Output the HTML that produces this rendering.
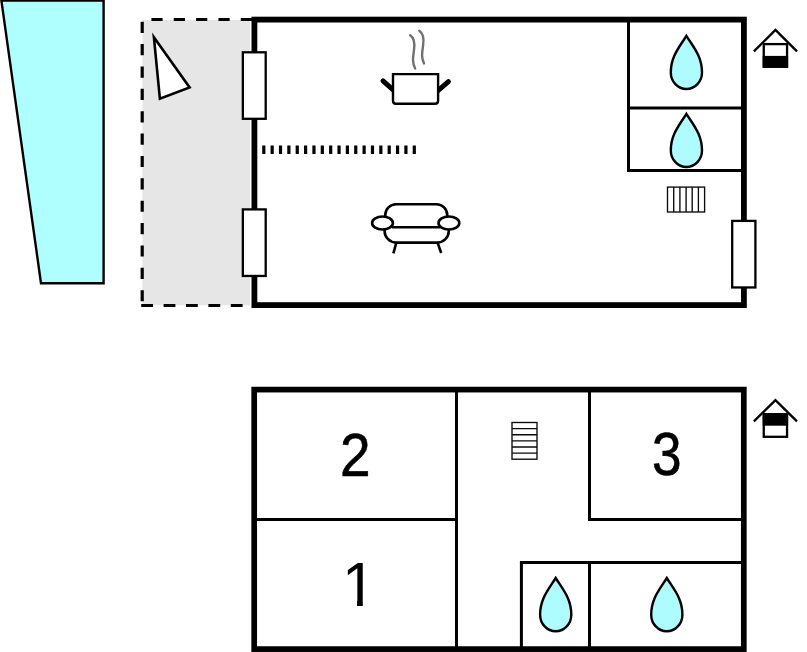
<!DOCTYPE html>
<html>
<head>
<meta charset="utf-8">
<title>Floor plan</title>
<style>
html,body{margin:0;padding:0;background:#fff;}
body{width:807px;height:652px;overflow:hidden;}
svg{display:block;}
text{font-family:"Liberation Sans",sans-serif;fill:#000;}
</style>
</head>
<body>
<svg width="807" height="652" viewBox="0 0 807 652">
<rect x="0" y="0" width="807" height="652" fill="#fff"/>

<!-- pool -->
<polygon points="1.4,0.6 103.6,0.6 103.6,283.2 41,283.2" fill="#afffff" stroke="#000" stroke-width="2.4" stroke-linejoin="miter"/>

<!-- terrace -->
<rect x="142.4" y="19.9" width="107.6" height="285.4" fill="#e6e6e6"/>
<g stroke="#000" stroke-width="3.2" fill="none">
<line x1="252" y1="19.5" x2="142" y2="19.5" stroke-dasharray="11.2 11.15"/>
<line x1="142.2" y1="21.7" x2="142.2" y2="304" stroke-dasharray="11.2 11.17"/>
<line x1="141.2" y1="305.5" x2="250" y2="305.5" stroke-dasharray="11.8 10.6"/>
</g>
<polygon points="153.9,37.3 189.6,87.5 159.9,98.8" fill="#fff" stroke="#000" stroke-width="2.6" stroke-linejoin="miter"/>

<!-- upper floor walls -->
<rect x="254.4" y="19.6" width="489.5" height="285.5" fill="#fff" stroke="#000" stroke-width="5.8"/>
<g stroke="#000" stroke-width="3" fill="none">
<polyline points="628.5,19.7 628.5,170.4 743.6,170.4" stroke-linejoin="miter"/>
<line x1="628.5" y1="108" x2="743.6" y2="108"/>
</g>
<!-- windows -->
<g fill="#fff" stroke="#000" stroke-width="2.3">
<rect x="242.85" y="52.3" width="22.85" height="66.5"/>
<rect x="242.85" y="209.4" width="22.85" height="66.55"/>
<rect x="732.2" y="220.9" width="23.2" height="66.55"/>
</g>

<!-- partition dotted -->
<line x1="262.2" y1="149.8" x2="416.5" y2="149.8" stroke="#000" stroke-width="8.4" stroke-dasharray="3.2 5.16"/>

<!-- pot -->
<g stroke="#000" fill="none">
<line x1="383" y1="80.9" x2="393.4" y2="90.2" stroke-width="5" stroke-linecap="round"/>
<line x1="448.4" y1="81.6" x2="437.7" y2="90.8" stroke-width="5" stroke-linecap="round"/>
<path d="M393,74.1 H438.1 V100.8 Q438.1,103.8 435.1,103.8 H396 Q393,103.8 393,100.8 Z" fill="#fff" stroke-width="2.4"/>
</g>
<g stroke="#707070" stroke-width="2.4" fill="none" stroke-linecap="round">
<path d="M410.2,35.2 C414.5,38 415,43 414,50 C413,57 412,62 415.1,68.4"/>
<path d="M419.3,30.7 C423.6,33.5 424.1,38.5 423.1,45.5 C422.1,52.5 421.1,57.5 424,63.4"/>
</g>

<!-- sofa -->
<g stroke="#000" stroke-width="2.6" fill="none" stroke-linecap="butt">
<path d="M385.3,217 V215 A10.7,10.7 0 0 1 396,204.3 H436.5 A10.7,10.7 0 0 1 447.2,215 V217"/>
<path d="M384.6,229 V231 A11.6,11.6 0 0 0 396.2,242.6 H437.2 A11.6,11.6 0 0 0 448.8,231 V229"/>
<line x1="392" y1="227.3" x2="440" y2="227.3"/>
<ellipse cx="382.5" cy="223" rx="10.4" ry="6.5" fill="#fff"/>
<ellipse cx="448.9" cy="223" rx="10.4" ry="6.5" fill="#fff"/>
<line x1="396.2" y1="243" x2="393.4" y2="253.3"/>
<line x1="437.7" y1="243" x2="441.2" y2="253"/>
</g>

<!-- drops -->
<path d="M686.4,35.8 C679,47.7 670.8,56.5 670.8,72.5 C670.8,81.6 677.8,89 686.4,89 C695,89 702,81.6 702,72.5 C702,56.5 693.8,47.7 686.4,35.8 Z" fill="#aefcfd" stroke="#000" stroke-width="2.4" stroke-linejoin="miter"/>
<path d="M686.4,35.8 C679,47.7 670.8,56.5 670.8,72.5 C670.8,81.6 677.8,89 686.4,89 C695,89 702,81.6 702,72.5 C702,56.5 693.8,47.7 686.4,35.8 Z" transform="translate(0,78)" fill="#aefcfd" stroke="#000" stroke-width="2.4" stroke-linejoin="miter"/>

<!-- upper stairs -->
<g stroke="#0a0a0a" stroke-width="1.35" fill="#fff">
<rect x="667.5" y="187.1" width="37.1" height="24.9"/>
<path d="M673.7,187.1V212 M679.9,187.1V212 M686.1,187.1V212 M692.2,187.1V212 M698.4,187.1V212" fill="none"/>
</g>

<!-- house icon 1 -->
<g stroke="#000" fill="none">
<polyline points="753.9,51.3 775.45,30 797,51.3" stroke-width="2.35" stroke-linejoin="miter"/>
<rect x="763.75" y="44.1" width="23.3" height="22.6" fill="#fff" stroke-width="2.3"/>
<rect x="763.8" y="57" width="23.2" height="9.7" fill="#000" stroke-width="2.2"/>
</g>

<!-- lower floor -->
<rect x="254.2" y="389.6" width="489.6" height="259.5" fill="#fff" stroke="#000" stroke-width="5.7"/>
<g stroke="#000" stroke-width="3" fill="none" stroke-linejoin="miter">
<line x1="456.5" y1="389.6" x2="456.5" y2="649"/>
<line x1="254.2" y1="519.4" x2="456.5" y2="519.4"/>
<polyline points="589.5,389.6 589.5,519.4 743.7,519.4"/>
<polyline points="521.4,649 521.4,562.4 743.7,562.4"/>
<line x1="589.5" y1="562.4" x2="589.5" y2="649"/>
</g>
<path d="M686.4,35.8 C679,47.7 670.8,56.5 670.8,72.5 C670.8,81.6 677.8,89 686.4,89 C695,89 702,81.6 702,72.5 C702,56.5 693.8,47.7 686.4,35.8 Z" transform="translate(-130.7,542.2)" fill="#aefcfd" stroke="#000" stroke-width="2.4" stroke-linejoin="miter"/>
<path d="M686.4,35.8 C679,47.7 670.8,56.5 670.8,72.5 C670.8,81.6 677.8,89 686.4,89 C695,89 702,81.6 702,72.5 C702,56.5 693.8,47.7 686.4,35.8 Z" transform="translate(-19.6,542.2)" fill="#aefcfd" stroke="#000" stroke-width="2.4" stroke-linejoin="miter"/>

<!-- lower stairs -->
<g stroke="#0a0a0a" stroke-width="1.35" fill="#fff">
<rect x="512" y="422.5" width="25" height="36.7"/>
<path d="M512,428.6H537 M512,434.7H537 M512,440.9H537 M512,447H537 M512,453.1H537" fill="none"/>
</g>

<!-- house icon 2 -->
<g stroke="#000" fill="none">
<polyline points="753.9,421.4 775.45,400.1 797,421.4" stroke-width="2.35" stroke-linejoin="miter"/>
<rect x="763.75" y="414.2" width="23.3" height="22.6" fill="#fff" stroke-width="2.3"/>
<rect x="763.8" y="414.2" width="23.2" height="10.4" fill="#000" stroke-width="2.2"/>
</g>

<!-- room numbers -->
<defs>
<clipPath id="c1"><rect x="-20" y="-50" width="40" height="45.2"/><rect x="-1.8" y="-6" width="5.7" height="8"/></clipPath>
</defs>
<g font-size="60" text-anchor="middle">
<text transform="translate(355.25,475.5) scale(0.9156,1.008)" stroke="#000" stroke-width="0.6">2</text>
<text transform="translate(358.84,605.6) scale(1.017,1.035)" clip-path="url(#c1)">1</text>
<text transform="translate(666.88,475.2) scale(0.886,1.0107)" stroke="#000" stroke-width="0.6">3</text>
</g>
</svg>
</body>
</html>
